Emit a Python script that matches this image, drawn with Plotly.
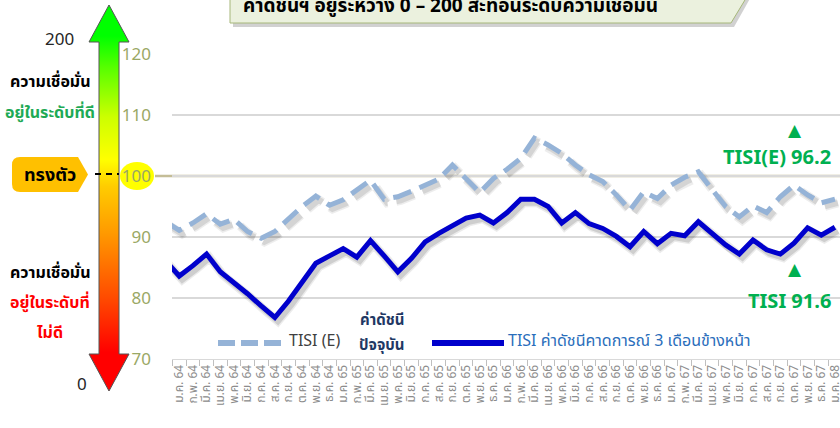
import plotly.graph_objects as go

# ---------------- data ----------------
month_abbr = ["ม.ค.", "ก.พ.", "มี.ค.", "เม.ย.", "พ.ค.", "มิ.ย.",
              "ก.ค.", "ส.ค.", "ก.ย.", "ต.ค.", "พ.ย.", "ธ.ค."]
years = ["64", "65", "66", "67"]
# previous month (cropped at the left edge) + Jan 64 ... Jan 68
categories = ["ธ.ค. 63"] + [f"{m} {y}" for y in years for m in month_abbr] + ["ม.ค. 68"]

tisi_current = [86.1,
                83.6, 85.3, 87.2, 84.3, 82.6, 80.7, 78.7, 76.8, 79.5, 82.7, 85.7, 86.9,
                88.1, 86.7, 89.4, 86.9, 84.3, 86.5, 89.2, 90.6, 91.8, 93.1, 93.6, 92.3,
                94.0, 96.2, 96.2, 95.0, 92.3, 94.0, 92.2, 91.4, 90.1, 88.4, 90.9, 88.9,
                90.6, 90.2, 92.5, 90.6, 88.7, 87.2, 89.5, 87.9, 87.2, 89.0, 91.5, 90.3,
                91.6]
tisi_expect = [92.5,
               91.1, 92.3, 93.8, 92.1, 92.9, 90.9, 89.8, 90.9, 92.9, 95.0, 96.7, 95.2,
               96.1, 97.6, 99.3, 96.2, 96.6, 97.5, 98.5, 99.5, 101.8, 99.5, 97.3, 99.6,
               101.1, 102.9, 106.2, 105.1, 103.7, 101.8, 100.2, 99.1, 96.9, 94.4, 97.4, 96.3,
               98.5, 99.8, 100.7, 97.8, 95.0, 93.3, 95.1, 94.0, 96.6, 98.5, 96.9, 95.6,
               96.2]
y_ticks = [70, 80, 90, 100, 110, 120]
baseline_value = 100
last_e = tisi_expect[-1]
last_c = tisi_current[-1]

W, H = 840, 428
def px(x):
    return x / W
def py(y):
    return 1 - y / H

FONT = "Tahoma, 'Noto Sans Thai', 'Leelawadee UI', 'DejaVu Sans', sans-serif"

fig = go.Figure()

# shadows (main hidden subplot x2/y2, drawn first)
for vals, w, a in [(tisi_expect, 9, 0.07), (tisi_expect, 6, 0.10),
                   (tisi_current, 9, 0.08), (tisi_current, 6, 0.12)]:
    fig.add_trace(go.Scatter(x=categories, y=vals, mode="lines", xaxis="x2", yaxis="y2",
                             line=dict(color=f"rgba(0,0,0,{a})", width=w,
                                       dash="19px,9px" if vals is tisi_expect else "solid"),
                             hoverinfo="skip", showlegend=False))

fig.add_trace(go.Scatter(x=categories, y=tisi_expect, mode="lines", name="TISI (E)",
                         line=dict(color="#95B3D7", width=5, dash="19px,9px"),
                         showlegend=False))
fig.add_trace(go.Scatter(x=categories, y=tisi_current, mode="lines",
                         name="TISI ค่าดัชนีคาดการณ์ 3 เดือนข้างหน้า",
                         line=dict(color="#0000CC", width=5), showlegend=False))

# gradient arrow on left panel (pixel-mapped axes)
arrow_x = [109, 129, 119, 119, 129, 109, 89, 99, 99, 89, 109]
arrow_y = [5, 42, 42, 354, 354, 391, 354, 354, 42, 42, 5]
fig.add_trace(go.Scatter(
    x=arrow_x, y=arrow_y, xaxis="x3", yaxis="y3", mode="lines", fill="toself",
    line=dict(color="#555555", width=1),
    fillgradient=dict(type="vertical", start=391, stop=5,
                      colorscale=[[0.0, "#FF0000"], [0.10, "#FF0000"], [0.24, "#FF4A00"],
                                  [0.41, "#FF9A00"], [0.53, "#FFCC00"], [0.60, "#FFFF00"],
                                  [0.71, "#CCFF00"], [0.84, "#55FF00"], [0.92, "#00FF00"],
                                  [1.0, "#00FF00"]]),
    hoverinfo="skip", showlegend=False))

x_range = [0.47, 49.37]
y_range = [70, 120]
dom_x = [px(172), 1]
dom_y = [py(359), py(54)]

shapes = []
# title box shadow + box
shapes.append(dict(type="path", xref="paper", yref="paper",
                   path=f"M {px(233)},{py(-5)} L {px(752)},{py(-5)} L {px(734)},{py(27)} L {px(233)},{py(27)} Z",
                   fillcolor="rgba(0,0,0,0.18)", line=dict(width=0), layer="above"))
shapes.append(dict(type="path", xref="paper", yref="paper",
                   path=f"M {px(230)},{py(-5)} L {px(748)},{py(-5)} L {px(731)},{py(23)} L {px(230)},{py(23)} Z",
                   fillcolor="#EBF1DE", line=dict(color="#A6B77A", width=1), layer="above"))
# baseline 100 (tan)
shapes.append(dict(type="line", xref="paper", yref="y", x0=px(155), x1=1,
                   y0=baseline_value, y1=baseline_value,
                   line=dict(color="#C4BD97", width=2.5), layer="below"))
# yellow ellipse around 100 label
shapes.append(dict(type="circle", xref="paper", yref="paper",
                   x0=px(120), x1=px(154), y0=py(190), y1=py(162),
                   fillcolor="#FFFF00", line=dict(width=0), layer="below"))
# badge
shapes.append(dict(type="path", xref="paper", yref="paper",
                   path=(f"M {px(20)},{py(157)} L {px(78)},{py(157)} L {px(88)},{py(174.5)} "
                         f"L {px(78)},{py(192)} L {px(20)},{py(192)} Q {px(12)},{py(192)} {px(12)},{py(184)} "
                         f"L {px(12)},{py(165)} Q {px(12)},{py(157)} {px(20)},{py(157)} Z"),
                   fillcolor="#FFC000", line=dict(width=0)))
# dash on arrow at 100
shapes.append(dict(type="line", xref="paper", yref="paper", x0=px(95), x1=px(119),
                   y0=py(174), y1=py(174), line=dict(color="black", width=2, dash="6px,5px"),
                   layer="above"))
# legend samples
shapes.append(dict(type="line", xref="paper", yref="paper", x0=px(218), x1=px(281),
                   y0=py(343), y1=py(343), line=dict(color="#95B3D7", width=6, dash="17px,6px")))
shapes.append(dict(type="line", xref="paper", yref="paper", x0=px(432), x1=px(504),
                   y0=py(343), y1=py(343), line=dict(color="#0000CC", width=6)))

ann = []
def text(x, y, s, size=15, color="black", bold=False, xanchor="center", yanchor="middle"):
    ann.append(dict(xref="paper", yref="paper", x=px(x), y=py(y), text=f"<b>{s}</b>" if bold else s,
                    showarrow=False, xanchor=xanchor, yanchor=yanchor,
                    font=dict(family=FONT, size=size, color=color)))

text(241, 7, "ค่าดัชนีฯ อยู่ระหว่าง 0 – 200 สะท้อนระดับความเชื่อมั่น", 19, "black", True, "left")
text(76, 40, "200", 17, "#262626", False, "right")
text(89, 385, "0", 17, "#262626", False, "right")
text(50, 82, "ความเชื่อมั่น", 16, "black", True)
text(50, 113, "อยู่ในระดับที่ดี", 16, "#1EAA55", True)
text(50, 175, "ทรงตัว", 18, "black", True)
text(50, 273, "ความเชื่อมั่น", 16, "black", True)
text(50, 303, "อยู่ในระดับที่", 16, "#FF0000", True)
text(50, 333, "ไม่ดี", 16, "#FF0000", True)
text(795, 131, "▲", 17, "#00B050")
text(833, 158, f"TISI(E) {last_e:.1f}", 20, "#00B050", True, "right")
text(795, 270, "▲", 17, "#00B050")
text(833, 302, f"TISI {last_c:.1f}", 20, "#00B050", True, "right")
text(287, 341, "TISI (E)", 16, "#404040", False, "left")
text(382, 320, "ค่าดัชนี", 15, "#1F3864", True)
text(382, 345, "ปัจจุบัน", 15, "#1F3864", True)
text(506, 341, "TISI ค่าดัชนีคาดการณ์ 3 เดือนข้างหน้า", 16, "#2A6EBB", False, "left")

fig.update_layout(
    template="none",
    width=W, height=H, margin=dict(l=0, r=0, t=0, b=0, autoexpand=False),
    paper_bgcolor="white", plot_bgcolor="rgba(0,0,0,0)",
    showlegend=False, shapes=shapes, annotations=ann,
    xaxis2=dict(domain=dom_x, type="category", categoryorder="array", categoryarray=categories,
                range=[x_range[0] - 0.22, x_range[1] - 0.22], visible=False, fixedrange=True,
                automargin=False),
    yaxis2=dict(domain=dom_y, range=[y_range[0] + 0.6, y_range[1] + 0.6], visible=False,
                fixedrange=True, automargin=False),
    xaxis=dict(domain=dom_x, overlaying="x2", type="category", categoryorder="array",
               categoryarray=categories, range=x_range, tickmode="linear", tick0=0, dtick=1,
               tickson="boundaries", ticks="outside", ticklen=6, tickcolor="#BFBFBF",
               tickangle=-90, showgrid=False, showline=True, linecolor="#D9D9D9", linewidth=1,
               zeroline=False, automargin=False,
               tickfont=dict(family=FONT, size=12, color="#8C8C8C"), anchor="y"),
    yaxis=dict(domain=dom_y, overlaying="y2", range=y_range, tickmode="array", tickvals=y_ticks,
               showgrid=True, gridcolor="#D9D9D9", gridwidth=1.5, zeroline=False,
               ticks="", ticklabelstandoff=20, showline=False, automargin=False,
               tickfont=dict(family=FONT, size=17, color="#9AA865"), anchor="x"),
    xaxis3=dict(domain=[0, px(160)], range=[0, 160], visible=False, fixedrange=True,
                automargin=False),
    yaxis3=dict(domain=[0, 1], range=[H, 0], visible=False, fixedrange=True, anchor="x3",
                automargin=False),
)

fig.write_html("out.html", config={"displayModeBar": False, "staticPlot": True},
               post_script="document.body.style.margin='0';document.body.style.overflow='hidden';")
